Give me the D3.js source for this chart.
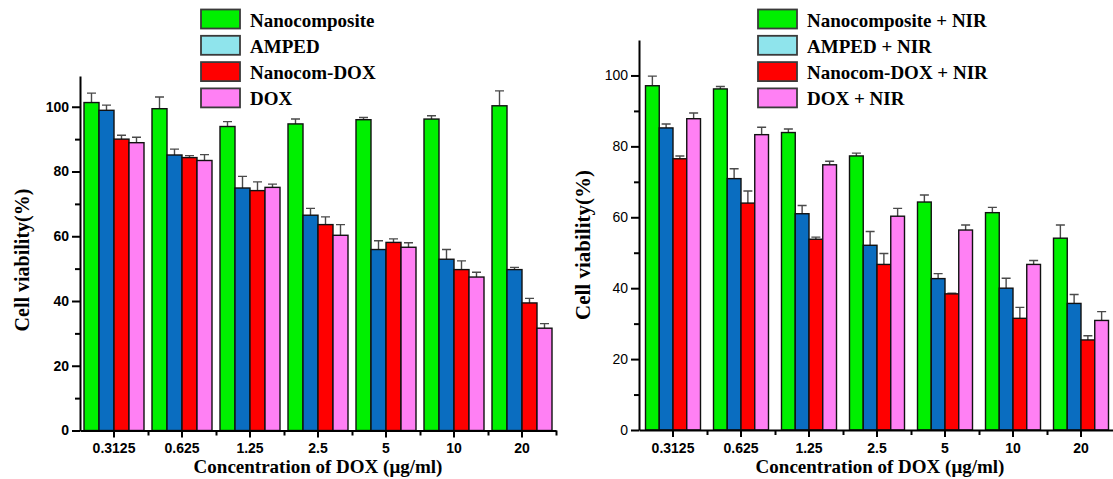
<!DOCTYPE html>
<html>
<head>
<meta charset="utf-8">
<script src="https://cdn.jsdelivr.net/npm/d3@7/dist/d3.min.js"></script>
<style>
  body { margin: 0; background: #fff; }
  svg { display: block; }
</style>
</head>
<body>
<div id="chart"></div>
<script>
// categories
const concentrations = ["0.3125", "0.625", "1.25", "2.5", "5", "10", "20"];

// left panel (no NIR)
const seriesLeft = ["Nanocomposite", "AMPED", "Nanocom-DOX", "DOX"];
const nanoLeft = [101.3, 99.4, 93.9, 94.7, 96.0, 96.2, 100.3];
const nanoLeftErr = [2.9, 3.6, 1.5, 1.5, 0.7, 1.0, 4.6];
const ampedLeft = [98.9, 85.1, 74.9, 66.5, 55.9, 52.9, 49.7];
const ampedLeftErr = [1.6, 1.8, 3.6, 2.1, 2.7, 3.0, 0.7];
const nanoDoxLeft = [90.0, 84.3, 74.1, 63.6, 58.1, 49.7, 39.4];
const nanoDoxLeftErr = [1.2, 0.6, 2.7, 2.4, 1.1, 2.7, 1.4];
const doxLeft = [88.9, 83.4, 75.1, 60.3, 56.6, 47.4, 31.6];
const doxLeftErr = [1.7, 1.8, 1.0, 3.3, 1.4, 1.5, 1.4];

// right panel (+ NIR)
const seriesRight = ["Nanocomposite + NIR", "AMPED + NIR", "Nanocom-DOX + NIR", "DOX + NIR"];
const nanoRight = [97.1, 96.2, 83.9, 77.3, 64.3, 61.3, 54.1];
const nanoRightErr = [2.7, 0.7, 1.0, 0.8, 2.0, 1.5, 3.7];
const ampedRight = [85.2, 70.9, 61.0, 52.1, 42.7, 40.0, 35.7];
const ampedRightErr = [1.1, 2.8, 2.3, 3.9, 1.4, 2.8, 2.5];
const nanoDoxRight = [76.5, 64.0, 53.8, 46.7, 38.4, 31.5, 25.4];
const nanoDoxRightErr = [0.8, 3.4, 0.6, 3.1, 0.2, 3.1, 1.2];
const doxRight = [87.8, 83.3, 74.8, 60.3, 56.4, 46.7, 30.9];
const doxRightErr = [1.6, 2.1, 1.0, 2.2, 1.4, 1.1, 2.5];

const yMajorTicks = [0, 20, 40, 60, 80, 100];
const yMinorTicks = [10, 30, 50, 70, 90];

const barColors = ["#00f000", "#0a6dc0", "#ff0000", "#ff80f4"];
const legendColors = ["#00f000", "#8fe4ec", "#ff0000", "#ff80f4"];

const sansFont = "'Liberation Sans', Arial, sans-serif";
const serifFont = "'Liberation Serif', 'Times New Roman', serif";

const svg = d3.select("#chart").append("svg")
  .attr("width", 1113)
  .attr("height", 479);

function drawPanel(cfg) {
  const table = concentrations.map((c, i) => ({
    conc: c,
    vals: cfg.values.map((arr, k) => ({ key: cfg.series[k], k: k, v: arr[i], e: cfg.errors[k][i] }))
  }));

  const x = d3.scaleBand()
    .domain(concentrations)
    .range(cfg.xRange)
    .paddingInner(0)
    .paddingOuter(0);

  const bw = x.bandwidth();
  const x1 = d3.scaleBand()
    .domain(cfg.series)
    .range([(bw - cfg.groupW) / 2, (bw + cfg.groupW) / 2]);

  const y = d3.scaleLinear()
    .domain([0, cfg.yMax])
    .range(cfg.yRange);

  const g = svg.append("g");

  // bars
  const groups = g.selectAll("g.grp")
    .data(table)
    .enter()
    .append("g")
    .attr("class", "grp")
    .attr("transform", d => `translate(${x(d.conc)},0)`);

  // error bars (upper only)
  groups.selectAll("path.err")
    .data(d => d.vals)
    .enter()
    .append("path")
    .attr("class", "err")
    .attr("d", d => {
      const cx = x1(d.key) + x1.bandwidth() / 2;
      const top = y(d.v + d.e);
      return `M${cx},${y(d.v)}V${top}M${cx - 4.5},${top}H${cx + 4.5}`;
    })
    .attr("fill", "none")
    .attr("stroke", "#4a4a4a")
    .attr("stroke-width", 1.4);

  groups.selectAll("rect")
    .data(d => d.vals)
    .enter()
    .append("rect")
    .attr("x", d => x1(d.key))
    .attr("y", d => y(d.v))
    .attr("width", x1.bandwidth())
    .attr("height", d => y(0) - y(d.v))
    .attr("fill", d => barColors[d.k])
    .attr("stroke", "#111")
    .attr("stroke-width", 1.4);

  // y axis
  const yAxis = g.append("g")
    .attr("transform", `translate(${cfg.xRange[0]},0)`)
    .call(d3.axisLeft(y).tickValues(yMajorTicks).tickSize(8).tickSizeOuter(0).tickPadding(3));
  yAxis.select(".domain").attr("stroke-width", 2);
  yAxis.selectAll(".tick line").attr("stroke-width", 2);
  yAxis.selectAll(".tick text")
    .attr("font-family", sansFont)
    .attr("font-size", "14px")
    .attr("font-weight", cfg.yBold ? "bold" : "normal")
    .attr("fill", "#000");

  const yMinor = g.append("g")
    .attr("transform", `translate(${cfg.xRange[0]},0)`)
    .call(d3.axisLeft(y).tickValues(yMinorTicks).tickSize(5).tickSizeOuter(0).tickFormat(""));
  yMinor.select(".domain").remove();
  yMinor.selectAll(".tick line").attr("stroke-width", 2);

  // x axis
  const xAxis = g.append("g")
    .attr("transform", `translate(0,${y(0)})`)
    .call(d3.axisBottom(x).tickSize(7).tickSizeOuter(0).tickPadding(6));
  xAxis.select(".domain").attr("stroke-width", 2);
  xAxis.selectAll(".tick line").attr("stroke-width", 2);
  xAxis.selectAll(".tick text")
    .attr("font-family", sansFont)
    .attr("font-size", "14px")
    .attr("font-weight", "bold")
    .attr("fill", "#000");

  const xLin = d3.scaleLinear().domain([0, concentrations.length]).range(cfg.xRange);
  const xMinor = g.append("g")
    .attr("transform", `translate(0,${y(0)})`)
    .call(d3.axisBottom(xLin).tickValues(d3.range(1, concentrations.length + 1)).tickSize(5).tickFormat(""));
  xMinor.select(".domain").remove();
  xMinor.selectAll(".tick line").attr("stroke-width", 2);

  // axis titles
  g.append("text")
    .attr("x", (cfg.xRange[0] + cfg.xRange[1]) / 2 + cfg.xTitleDx)
    .attr("y", 473)
    .attr("text-anchor", "middle")
    .attr("font-family", serifFont)
    .attr("font-weight", "bold")
    .attr("font-size", "19px")
    .text("Concentration of DOX (\u03bcg/ml)");

  g.append("text")
    .attr("transform", `translate(${cfg.yTitleX},${cfg.yTitleY}) rotate(-90)`)
    .attr("text-anchor", "middle")
    .attr("dy", "0.35em")
    .attr("font-family", serifFont)
    .attr("font-weight", "bold")
    .attr("font-size", cfg.yTitleSize)
    .text("Cell viability(%)");

  // legend
  const legend = g.append("g")
    .attr("transform", `translate(${cfg.legendX},9.5)`);

  legend.selectAll("rect")
    .data(cfg.series)
    .enter()
    .append("rect")
    .attr("x", 0)
    .attr("y", (d, i) => i * 26.3)
    .attr("width", 39)
    .attr("height", 19)
    .attr("fill", (d, i) => legendColors[i])
    .attr("stroke", "#3a3a3a")
    .attr("stroke-width", 1.8);

  legend.selectAll("text")
    .data(cfg.series)
    .enter()
    .append("text")
    .attr("x", 49)
    .attr("y", (d, i) => i * 26.3 + 17)
    .attr("font-family", serifFont)
    .attr("font-weight", "bold")
    .attr("font-size", "19px")
    .attr("fill", "#000")
    .text(d => d);
}

drawPanel({
  series: seriesLeft,
  values: [nanoLeft, ampedLeft, nanoDoxLeft, doxLeft],
  errors: [nanoLeftErr, ampedLeftErr, nanoDoxLeftErr, doxLeftErr],
  xRange: [80, 556],
  yRange: [430.5, 76],
  yMax: 109.5,
  groupW: 60,
  yBold: true,
  legendX: 201,
  xTitleDx: 0,
  yTitleX: 22,
  yTitleY: 260,
  yTitleSize: "20px"
});

drawPanel({
  series: seriesRight,
  values: [nanoRight, ampedRight, nanoDoxRight, doxRight],
  errors: [nanoRightErr, ampedRightErr, nanoDoxRightErr, doxRightErr],
  xRange: [639, 1115],
  yRange: [430, 40],
  yMax: 110,
  groupW: 55,
  yBold: false,
  legendX: 758,
  xTitleDx: 3,
  yTitleX: 583,
  yTitleY: 245,
  yTitleSize: "21px"
});
</script>
</body>
</html>
